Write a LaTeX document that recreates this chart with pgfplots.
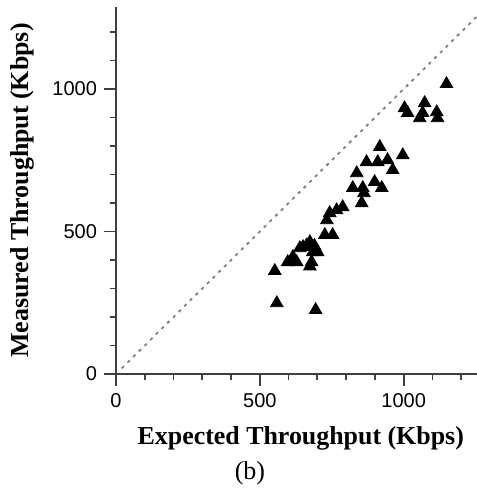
\documentclass[border=0pt]{standalone}
\usepackage{pgfplots}
\pgfplotsset{compat=1.18}
\usepackage{fontspec}
\setmainfont{Liberation Serif}
\newfontfamily\helv{Liberation Sans}
\begin{document}
\begin{tikzpicture}
\begin{axis}[
  scale only axis,
  width=180.5pt, height=183.5pt,
  xmin=0, xmax=1255, ymin=0, ymax=1288,
  axis x line*=bottom, axis y line*=left,
  axis line style={black!75, line width=0.9pt, -},
  xtick={0,500,1000}, ytick={0,500,1000},
  minor xtick={100,200,300,400,600,700,800,900,1100,1200},
  minor ytick={100,200,300,400,600,700,800,900,1100,1200},
  xtick align=outside, ytick align=outside,
  major tick length=6pt, minor tick length=3pt,
  tick style={black!75, line width=0.9pt},
  /pgf/number format/assume math mode=true,
  /pgf/number format/1000 sep={},
  ticklabel style={font=\helv\fontsize{10}{12}\selectfont},
  xlabel={\bfseries Expected Throughput (Kbps)},
  ylabel={\bfseries Measured Throughput (Kbps)},
  label style={font=\fontsize{12.95}{15}\selectfont},
  xlabel style={at={(axis description cs:0.512,-0.176)}, anchor=center},
  ylabel style={at={(axis description cs:-0.258,0.5)}, anchor=center},
  clip=false,
]
\addplot[gray, line width=0.9pt, dash pattern=on 1.6pt off 2.4pt] coordinates {(20,20) (1255,1255)};
\addplot[only marks, mark=triangle*, mark size=3.6pt, black] coordinates {
(552,362) (559,249) (694,225) (597,393) (615,411) (628,393) (639,442) (650,446)
(674,463) (684,428) (701,428) (674,378) (680,393) (690,450) (663,452)
(726,488) (753,488) (733,540) (743,565) (767,575) (788,586)
(823,653) (837,705) (854,600) (858,653) (862,635) (871,744) (899,674)
(910,744) (917,797) (924,653) (944,751) (962,716) (997,768)
(1003,933) (1014,916) (1056,898) (1066,916) (1073,951) (1115,919) (1118,898) (1149,1018)
};
\node[font=\fontsize{13}{15}\selectfont] at (axis description cs:0.371,-0.27) {(b)};
\end{axis}
\pgfresetboundingbox
\useasboundingbox (-58pt,-57pt) rectangle (180.5pt,187pt);
\end{tikzpicture}
\end{document}
